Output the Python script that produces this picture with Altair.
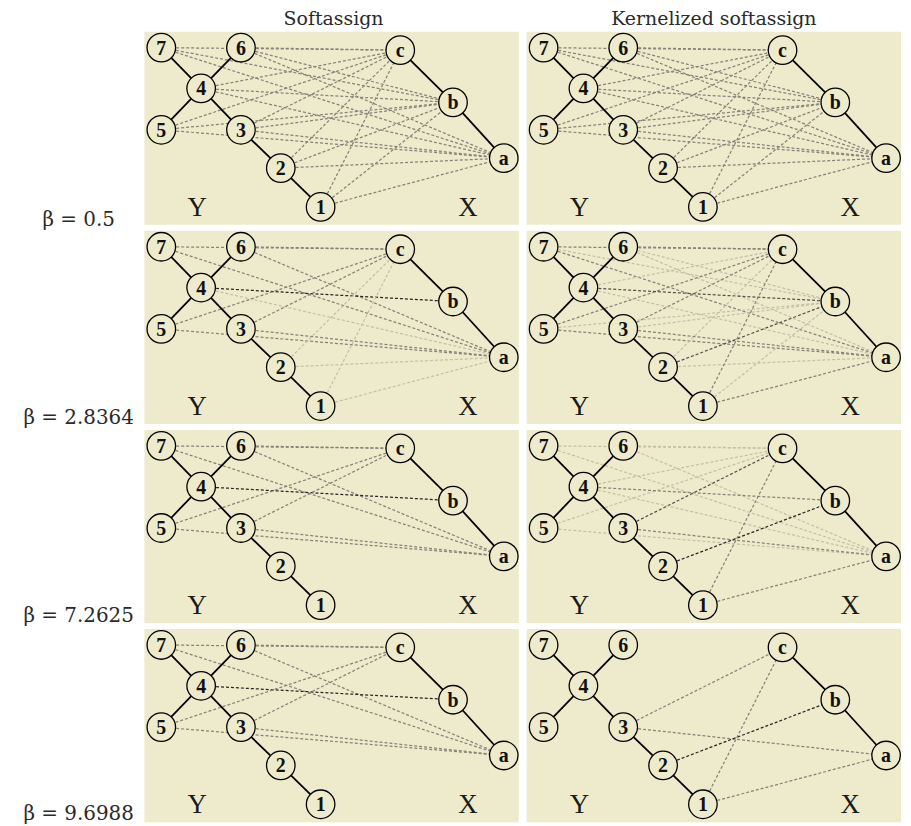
import altair as alt
import pandas as pd

BG = "#EEEBCC"

BETAS = ["0.5", "2.8364", "7.2625", "9.6988"]
METHODS = ["Softassign", "Kernelized softassign"]

# graph Y (left tree) node layout
Y_NODES = ["1", "2", "3", "4", "5", "6", "7"]
Y_NODE_X = [177, 137, 97, 57, 17, 97, 17]
Y_NODE_Y = [176, 137, 98.5, 57, 98.5, 16, 16]
# graph X (right chain) node layout
X_NODES = ["a", "b", "c"]
X_NODE_X = [361, 310, 257]
X_NODE_Y = [127, 71, 18.5]

Y_TREE = [("7", "4"), ("6", "4"), ("5", "4"), ("4", "3"), ("3", "2"), ("2", "1")]
X_TREE = [("c", "b"), ("b", "a")]

GRAPH_LABELS = ["Y", "X"]
GRAPH_LABEL_X = [53, 325]
GRAPH_LABEL_Y = [185, 185]

# correspondence edges: "<Y node><X node><weight>", weight 1=light .. 4=dark
EDGES = {
    ("0.5", "Softassign"): "7c2 7b2 7a2 6c2 6b2 6a2 4c2 4b2 4a2 5c2 5b2 5a2 3c2 3b2 3a2 2c2 2b2 2a2 1c2 1b2 1a2",
    ("0.5", "Kernelized softassign"): "7c2 7b2 7a2 6c2 6b2 6a2 4c2 4b2 4a2 5c2 5b2 5a2 3c2 3b2 3a2 2c2 2b2 2a2 1c2 1b2 1a2",
    ("2.8364", "Softassign"): "7c2 6c2 7a2 6a2 4b4 4a1 5c2 3c2 5a2 3a2 2a1 1a1 1c1 2c1",
    ("2.8364", "Kernelized softassign"): "7c2 6c2 7b1 7a2 6b1 6a1 4c1 5c2 3c2 4b3 4a1 5b1 3b1 5a2 3a2 2b3 2a1 2c1 1c2 1b1 1a2",
    ("7.2625", "Softassign"): "7c2 6c2 7a2 6a2 4b4 5c2 3c2 5a2 3a2",
    ("7.2625", "Kernelized softassign"): "7c1 6c1 7a1 6a1 4c1 5c1 3c3 4b2 4a1 5a1 3a2 2b4 1c2 1a2",
    ("9.6988", "Softassign"): "7c2 6c2 7a2 6a2 4b4 5c2 3c2 5a2 3a2",
    ("9.6988", "Kernelized softassign"): "3c2 3a2 2b4 1c2 1a2",
}

W_DOMAIN = ["1", "2", "3", "4"]
W_COLORS = ["#c4c0a8", "#85827a", "#55534e", "#262626"]

PW, PH = 376, 194
LW = 131
ROW_GAP, COL_GAP = 5, 6
TITLE_H = 20

pos = {}
for n, x, y in zip(Y_NODES, Y_NODE_X, Y_NODE_Y):
    pos[n] = (x, y)
for n, x, y in zip(X_NODES, X_NODE_X, X_NODE_Y):
    pos[n] = (x, y)

nodes_df = pd.DataFrame({
    "name": Y_NODES + X_NODES,
    "x": Y_NODE_X + X_NODE_X,
    "y": Y_NODE_Y + X_NODE_Y,
})
tree_df = pd.DataFrame([
    {"x1": pos[a][0], "y1": pos[a][1], "x2": pos[b][0], "y2": pos[b][1]}
    for a, b in Y_TREE + X_TREE
])
glab_df = pd.DataFrame({"t": GRAPH_LABELS, "x": GRAPH_LABEL_X, "y": GRAPH_LABEL_Y})

XS = alt.Scale(domain=[0, PW])
YS = alt.Scale(domain=[0, PH], reverse=True)


def panel(edge_str):
    rows = []
    for tok in edge_str.split():
        a, b, w = tok[0], tok[1], tok[2]
        rows.append({"x1": pos[a][0], "y1": pos[a][1], "x2": pos[b][0], "y2": pos[b][1], "w": w})
    edf = pd.DataFrame(rows)
    dashed = alt.Chart(edf).mark_rule(strokeDash=[3, 2], strokeWidth=1.25).encode(
        x=alt.X("x1:Q", scale=XS, axis=None),
        y=alt.Y("y1:Q", scale=YS, axis=None),
        x2="x2:Q", y2="y2:Q",
        color=alt.Color("w:N", scale=alt.Scale(domain=W_DOMAIN, range=W_COLORS), legend=None),
    )
    tree = alt.Chart(tree_df).mark_rule(color="black", strokeWidth=1.8).encode(
        x=alt.X("x1:Q", scale=XS, axis=None),
        y=alt.Y("y1:Q", scale=YS, axis=None),
        x2="x2:Q", y2="y2:Q",
    )
    circles = alt.Chart(nodes_df).mark_point(
        shape="circle", size=820, fill=BG, stroke="black", strokeWidth=1.3,
        opacity=1, fillOpacity=1,
    ).encode(
        x=alt.X("x:Q", scale=XS, axis=None),
        y=alt.Y("y:Q", scale=YS, axis=None),
    )
    labels = alt.Chart(nodes_df).mark_text(
        font="Liberation Serif", fontWeight="bold", fontSize=20, color="#111",
        baseline="middle", align="center", dy=1,
    ).encode(
        x=alt.X("x:Q", scale=XS, axis=None),
        y=alt.Y("y:Q", scale=YS, axis=None),
        text="name:N",
    )
    glabels = alt.Chart(glab_df).mark_text(
        font="Liberation Serif", fontSize=27, color="#1a1a1a",
        baseline="alphabetic", align="center",
    ).encode(
        x=alt.X("x:Q", scale=XS, axis=None),
        y=alt.Y("y:Q", scale=YS, axis=None),
        text="t:N",
    )
    return alt.layer(dashed, tree, circles, labels, glabels).properties(
        width=PW, height=PH, view=alt.ViewBackground(fill=BG, stroke=None)
    )


def title_chart(txt, w):
    return alt.Chart(pd.DataFrame({"t": [txt]})).mark_text(
        font="DejaVu Serif", fontSize=19, color="#2a2a2a",
        align="center", baseline="alphabetic",
    ).encode(text="t:N", x=alt.value(w / 2 + 2), y=alt.value(14)).properties(width=w, height=TITLE_H)


title_row = alt.hconcat(
    title_chart("", LW),
    title_chart(METHODS[0], PW),
    title_chart(METHODS[1], PW),
    spacing=COL_GAP,
)

grid_h = 4 * PH + 3 * ROW_GAP
lab_df = pd.DataFrame({
    "t": [f"β = {b}" for b in BETAS],
    "y": [i * (PH + ROW_GAP) + PH + 1 for i in range(len(BETAS))],
})
label_col = alt.Chart(lab_df).mark_text(
    font="DejaVu Serif", fontSize=20, color="#2a2a2a",
    align="center", baseline="alphabetic",
).encode(
    text="t:N",
    x=alt.value(71),
    y=alt.Y("y:Q", scale=alt.Scale(domain=[0, grid_h], reverse=True), axis=None),
).properties(width=LW, height=grid_h)

grid = alt.vconcat(
    *[alt.hconcat(panel(EDGES[(b, METHODS[0])]), panel(EDGES[(b, METHODS[1])]), spacing=COL_GAP)
      for b in BETAS],
    spacing=ROW_GAP,
)

body = alt.hconcat(label_col, grid, spacing=COL_GAP)

chart = alt.vconcat(title_row, body, spacing=0).properties(padding=0).configure_view(stroke=None)

chart.save("out.html", embed_options={"renderer": "svg", "actions": False})
